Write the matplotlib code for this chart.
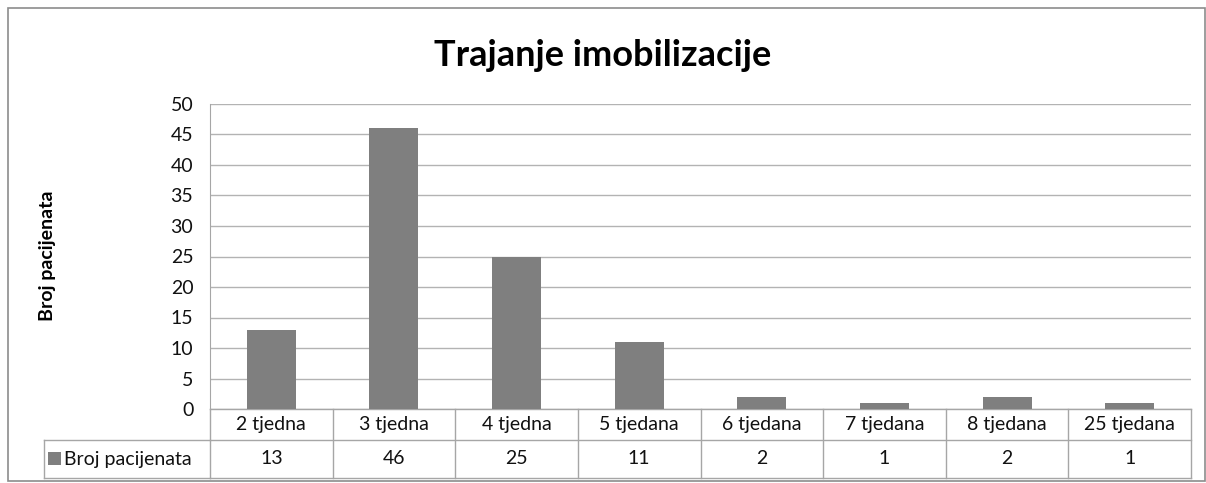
import matplotlib.pyplot as plt
import matplotlib.transforms as mtransforms
from matplotlib.patches import Rectangle

categories = ['2 tjedna', '3 tjedna', '4 tjedna', '5 tjedana', '6 tjedana',
              '7 tjedana', '8 tjedana', '25 tjedana']
values = [13, 46, 25, 11, 2, 1, 2, 1]
series_name = 'Broj pacijenata'
title = 'Trajanje imobilizacije'

plt.rcParams['font.family'] = ['Lato', 'DejaVu Sans']

W, H = 1206, 483
fig = plt.figure(figsize=(W / 100, H / 100), dpi=100)

def fy(py):
    return 1 - py / H

def fx(px):
    return px / W

bar_color = '#7f7f7f'
grid_color = '#b3b3b3'
line_color = '#a6a6a6'
txt_color = '#111111'
fs = 14

# outer chart border
fig.patches.append(Rectangle((fx(8), fy(481)), fx(1197), 473 / H, transform=fig.transFigure,
                             fill=False, edgecolor='#8c8c8c', linewidth=1.2))

ax = fig.add_axes([fx(210), fy(409), fx(1191 - 210), (409 - 104) / H])
x = list(range(len(categories)))
ax.bar(x, values, width=0.4, color=bar_color, zorder=3)
ax.set_xlim(-0.5, len(categories) - 0.5)
ax.set_ylim(0, 50)
ax.set_yticks(range(0, 51, 5))
ax.set_xticks([])
ax.yaxis.grid(True, color=grid_color, linewidth=1)
ax.tick_params(axis='y', length=0, pad=12, labelsize=fs, labelcolor=txt_color)
for s in ['top', 'right', 'bottom']:
    ax.spines[s].set_visible(False)
ax.spines['left'].set_color(line_color)

fig.text(0.5, fy(55), title, ha='center', va='center', fontsize=26, fontweight='bold')
fig.text(fx(47), fy(256), series_name, rotation=90, ha='center', va='center',
         fontsize=14, fontweight='bold')

# data table below the axis
tr = mtransforms.blended_transform_factory(ax.transData, fig.transFigure)
y0, y1, y2 = fy(409), fy(440), fy(478)
n = len(categories)
kw = dict(transform=tr, color=line_color, linewidth=1, clip_on=False)
ax.plot([-0.5, n - 0.5], [y0, y0], **kw)
ax.plot([-0.5, n - 0.5], [y1, y1], **kw)
ax.plot([-0.5, n - 0.5], [y2, y2], **kw)
for b in range(n + 1):
    ax.plot([b - 0.5, b - 0.5], [y0, y2], **kw)
# legend cell
fig.add_artist(plt.Line2D([fx(44), fx(210)], [y1, y1], color=line_color, linewidth=1))
fig.add_artist(plt.Line2D([fx(44), fx(210)], [y2, y2], color=line_color, linewidth=1))
fig.add_artist(plt.Line2D([fx(44), fx(44)], [y1, y2], color=line_color, linewidth=1))
fig.patches.append(Rectangle((fx(48), fy(465)), fx(13), 13 / H, transform=fig.transFigure,
                             facecolor=bar_color, edgecolor='none'))
fig.text(fx(64), (y1 + y2) / 2, series_name, ha='left', va='center', fontsize=fs,
         color=txt_color)

for i, (c, v) in enumerate(zip(categories, values)):
    ax.text(i, (y0 + y1) / 2, c, transform=tr, ha='center', va='center',
            fontsize=fs, color=txt_color)
    ax.text(i, (y1 + y2) / 2, str(v), transform=tr, ha='center', va='center',
            fontsize=fs, color=txt_color)

fig.savefig('out.png', dpi=100)
